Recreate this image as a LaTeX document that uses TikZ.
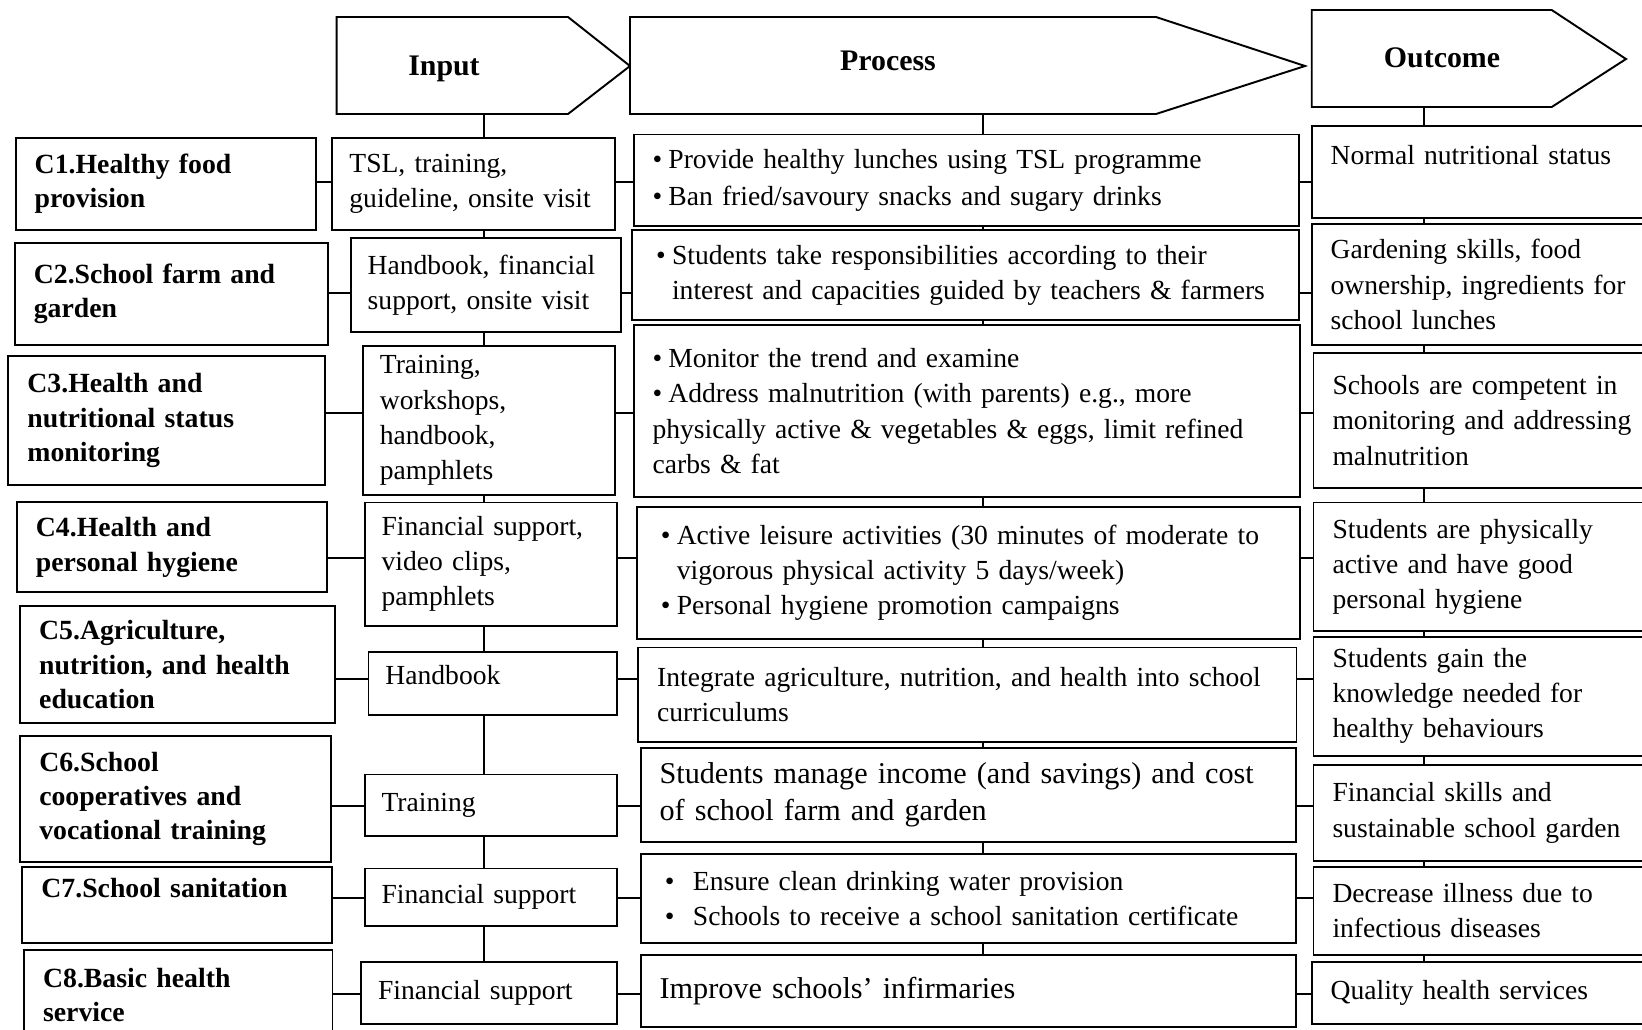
\documentclass[tikz,border=0pt]{standalone}
\usepackage{fontspec}
\setmainfont{Liberation Serif}
\newcommand{\pbul}{\makebox[9pt][l]{\textbullet}}
\newcommand{\wbul}{\hspace*{3pt}\makebox[16pt][l]{\textbullet}}

\begin{document}
\begin{tikzpicture}[x=0.02cm, y=-0.02cm,
    tbox/.style={draw, line width=1.1pt, fill=white, inner xsep=0.38cm,
      inner ysep=1pt, align=left, font=\fontsize{15.7}{20}\selectfont},
    cbox/.style={tbox, font=\bfseries\fontsize{15.8}{19.5}\selectfont},
    ibox/.style={tbox, inner xsep=0.34cm},
    head/.style={draw, line width=1.1pt, fill=white},
    htext/.style={font=\bfseries\fontsize{17}{20}\selectfont},
    link/.style={line width=0.9pt}]
  \useasboundingbox (0,0) rectangle (1642,1029);
  \clip (0,0) rectangle (1642,1029);

  % header arrows
  \draw[head] (336.7,17) -- (568,17) -- (630,66) -- (568,114) -- (336.7,114) -- cycle;
  \draw[head] (630,17) -- (1156,17) -- (1305,66) -- (1156,114) -- (630,114) -- cycle;
  \draw[head] (1311.7,10) -- (1551.7,10) -- (1626,59) -- (1551.7,107) -- (1311.7,107) -- cycle;
  \node[htext] (hin) at (444,69) {Input};
  \node[htext] (hpr) at (888,61) {Process};
  \node[htext] (hout) at (1442,58) {Outcome};
  \coordinate (inS) at (484,114);
  \coordinate (prS) at (983,114);
  \coordinate (ouS) at (1424,107);

  % components
  \node[cbox, text width=5.24cm, minimum height=1.85cm] (c1) at (165.7,183.9)
    {C1.Healthy food\\provision};
  \node[cbox, text width=5.50cm, minimum height=2.03cm] (c2) at (171.3,293.8)
    {C2.School farm and\\garden};
  \node[cbox, text width=5.58cm, minimum height=2.59cm] (c3) at (166.9,420.5)
    {C3.Health and\\nutritional status\\monitoring};
  \node[cbox, text width=5.44cm, minimum height=1.80cm] (c4) at (171.9,547.3)
    {C4.Health and\\personal hygiene};
  \node[cbox, text width=5.53cm, minimum height=2.35cm] (c5) at (177.4,664.7)
    {C5.Agriculture,\\nutrition, and health\\education};
  \node[cbox, text width=5.45cm, minimum height=2.52cm] (c6) at (175.5,798.7)
    {C6.School\\cooperatives and\\vocational training};
  \node[cbox, text width=5.44cm, minimum height=1.53cm] (c7) at (177.4,905)
    {C7.School sanitation\\\mbox{}};
  \node[cbox, text width=5.41cm, minimum height=1.80cm] (c8) at (178.3,995)
    {C8.Basic health\\service};

  % inputs
  \node[ibox, text width=4.98cm, minimum height=1.85cm] (in1) at (473.9,183.9)
    {TSL, training,\\guideline, onsite visit};
  \node[ibox, text width=4.72cm, minimum height=1.87cm] (in2) at (485.7,285)
    {Handbook, financial\\support, onsite visit};
  \node[ibox, text width=4.37cm, minimum height=2.99cm] (in3) at (489.1,420.5)
    {Training,\\workshops,\\handbook,\\pamphlets};
  \node[ibox, text width=4.37cm, minimum height=2.47cm] (in4) at (490.8,564.2)
    {Financial support,\\video clips,\\pamphlets};
  \node[ibox, text width=4.29cm, minimum height=1.26cm] (in5) at (492.7,683.5)
    {Handbook\\[-10pt]\mbox{}};
  \node[ibox, text width=4.37cm, minimum height=1.23cm] (in6) at (490.8,805.2)
    {Training};
  \node[ibox, text width=4.37cm, minimum height=1.15cm] (in7) at (490.8,897.2)
    {Financial support};
  \node[ibox, text width=4.44cm, minimum height=1.25cm] (in8) at (489,993)
    {Financial support};

  % processes
  \node[tbox, text width=12.55cm, minimum height=1.83cm] (p1) at (966.3,180.2)
    {\pbul Provide healthy lunches using TSL programme\\[1pt]
     \pbul Ban fried/savoury snacks and sugary drinks};
  \node[tbox, text width=12.58cm, minimum height=1.80cm] (p2) at (965.4,275)
    {\hspace*{3pt}\pbul Students take responsibilities according to their\\
     \hspace*{12pt}interest and capacities guided by teachers \& farmers};
  \node[tbox, text width=12.57cm, minimum height=3.43cm] (p3) at (966.8,411)
    {\pbul Monitor the trend and examine\\
     \pbul Address malnutrition (with parents) e.g., more\\
     physically active \& vegetables \& eggs, limit refined\\
     carbs \& fat};
  \node[tbox, text width=12.51cm, minimum height=2.65cm] (p4) at (968.4,572.9)
    {\hspace*{3pt}\pbul Active leisure activities (30 minutes of moderate to\\
     \hspace*{12pt}vigorous physical activity 5 days/week)\\
     \hspace*{3pt}\pbul Personal hygiene promotion campaigns};
  \node[tbox, text width=12.41cm, minimum height=1.89cm] (p5) at (967.3,694.7)
    {Integrate agriculture, nutrition, and health into school\\curriculums};
  \node[tbox, text width=12.36cm, minimum height=1.89cm,
    font=\fontsize{17.2}{21}\selectfont] (p6) at (968.5,795)
    {Students manage income (and savings) and cost\\of school farm and garden};
  \node[tbox, text width=12.36cm, minimum height=1.78cm] (p7) at (968.5,898.8)
    {\wbul Ensure clean drinking water provision\\
     \wbul Schools to receive a school sanitation certificate};
  \node[tbox, text width=12.36cm, minimum height=1.43cm,
    font=\fontsize{17.2}{21}\selectfont] (p8) at (968.5,990.9)
    {Improve schools’ infirmaries};

  % outcomes
  \node[tbox, text width=7.01cm, minimum height=1.85cm] (o1) at (1505.9,172.2)
    {Normal nutritional status\\\mbox{}};
  \node[tbox, text width=7.01cm, minimum height=2.42cm] (o2) at (1505.9,284.5)
    {Gardening skills, food\\ownership, ingredients for\\school lunches};
  \node[tbox, text width=6.97cm, minimum height=2.71cm] (o3) at (1506.7,420.5)
    {Schools are competent in\\monitoring and addressing\\malnutrition};
  \node[tbox, text width=6.97cm, minimum height=2.57cm] (o4) at (1506.7,566.7)
    {Students are physically\\active and have good\\personal hygiene};
  \node[tbox, text width=6.97cm, minimum height=2.38cm] (o5) at (1506.7,696.2)
    {Students gain the\\knowledge needed for\\healthy behaviours};
  \node[tbox, text width=6.97cm, minimum height=1.91cm] (o6) at (1506.7,812.9)
    {Financial skills and\\sustainable school garden};
  \node[tbox, text width=6.97cm, minimum height=1.77cm] (o7) at (1506.7,910.9)
    {Decrease illness due to\\infectious diseases};
  \node[tbox, text width=7.01cm, minimum height=1.25cm] (o8) at (1505.9,992.9)
    {Quality health services};

  % row lines
  \foreach \i/\y in {1/182,2/293,3/413,4/558,5/679,6/806,7/898,8/994}
    \coordinate (r\i) at (0,\y);
  \foreach \i in {1,...,8} {
    \draw[link] (c\i.east |- r\i) -- (in\i.west |- r\i);
    \draw[link] (in\i.east |- r\i) -- (p\i.west |- r\i);
    \draw[link] (p\i.east |- r\i) -- (o\i.west |- r\i);
  }

  % column lines
  \draw[link] (inS) -- (in1.north -| inS);
  \draw[link] (prS) -- (p1.north -| prS);
  \draw[link] (ouS) -- (o1.north -| ouS);
  \foreach \a/\b in {1/2,2/3,3/4,4/5,5/6,6/7,7/8} {
    \draw[link] (in\a.south -| inS) -- (in\b.north -| inS);
    \draw[link] (p\a.south -| prS) -- (p\b.north -| prS);
    \draw[link] (o\a.south -| ouS) -- (o\b.north -| ouS);
  }
\end{tikzpicture}
\end{document}
